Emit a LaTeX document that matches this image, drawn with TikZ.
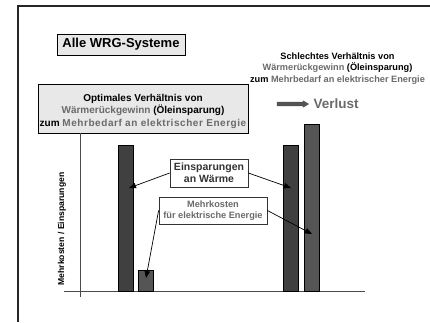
\documentclass[tikz,border=0pt]{standalone}
\usepackage{fontspec}
\setmainfont{Liberation Sans}
\usetikzlibrary{arrows.meta}
\definecolor{txtgrey}{HTML}{6A6A6A}
\definecolor{boxgrey}{HTML}{E8E8E8}
\definecolor{bardark}{HTML}{404040}
\definecolor{barmid}{HTML}{555555}
\definecolor{linegrey}{HTML}{4A4A4A}
\newfontfamily\spacedfont[LetterSpace=5.5]{Liberation Sans}
\tikzset{
  greybox/.style={draw=black, fill=boxgrey, line width=0.8pt, inner sep=0pt, align=center},
  whitebox/.style={draw=black!80, fill=white, line width=0.8pt, inner sep=0pt, align=center},
  bar/.style={draw=black, line width=0.6pt, inner sep=0pt, minimum width=15pt},
  arr/.style={line width=0.7pt, -{Triangle[length=7pt,width=5.5pt]}},
  axisline/.style={draw=linegrey, line width=0.8pt},
}
\begin{document}
\begin{tikzpicture}[x=1pt,y=-1pt]
\useasboundingbox (0,0) rectangle (430,322);
% frame
\draw[line width=1.1pt, black!85] (430,6) -- (18,6) -- (18,322);
% title
\node[greybox, minimum width=128pt, minimum height=21pt, font=\bfseries\fontsize{13}{15}\selectfont] (alle) at (121,44.5) {Alle WRG-Systeme};
% optimal box
\node[greybox, minimum width=210pt, minimum height=49pt, font=\bfseries\fontsize{10}{12.5}\selectfont] (opt) at (143,108.5)
  {\rule{0pt}{13pt}Optimales Verhältnis von\\ \textcolor{txtgrey}{Wärmerückgewinn} (Öleinsparung)\\ zum \textcolor{txtgrey}{\spacedfont Mehrbedarf an elektrischer Energie}};
% schlechtes text
\node[align=center, inner sep=0pt, font=\bfseries\fontsize{9.2}{11.5}\selectfont] (schl) at (337.5,68.5)
  {Schlechtes Verhältnis von\\ \textcolor{txtgrey}{Wärmerückgewinn} (Öleinsparung)\\ zum \textcolor{txtgrey}{Mehrbedarf an elektrischer Energie}};
% Verlust arrow and text
\fill[barmid, draw=black!70, line width=0.5pt] (277,102.2) -- (303,102.2) -- (303,100.8) -- (308.5,104) -- (303,107.2) -- (303,105.8) -- (277,105.8) -- cycle;
\node[anchor=west, text=txtgrey, font=\bfseries\fontsize{13.5}{15}\selectfont, inner sep=0pt] (verl) at (313.5,104) {Verlust};
% axes
\coordinate (ytop) at (80,133);
\coordinate (ybot) at (80,297);
\coordinate (xl) at (64,291);
\coordinate (xr) at (365,291);
\draw[axisline] (ytop) -- (ybot);
\draw[axisline] (xl) -- (xr);
\node[rotate=90, font=\bfseries\fontsize{8.6}{10}\selectfont] (ylab) at (62,229) {Mehrkosten / Einsparungen};
% bars
\node[bar, fill=bardark, minimum height=146pt] (b1) at (125.5,218) {};
\node[bar, fill=barmid, minimum height=21pt] (b2) at (145.5,280.5) {};
\node[bar, fill=bardark, minimum height=146pt] (b3) at (291,218) {};
\node[bar, fill=barmid, minimum height=167pt] (b4) at (311.5,207.5) {};
% label boxes
\node[whitebox, minimum width=78pt, minimum height=28pt, text=black!80, font=\bfseries\fontsize{10.5}{12}\selectfont] (eins) at (209,173) {Einsparungen\\an Wärme};
\node[whitebox, minimum width=108pt, minimum height=27pt, text=txtgrey, font=\bfseries\fontsize{9.2}{11.5}\selectfont] (mehr) at (213,210.5) {Mehrkosten\\für elektrische Energie};
% arrow targets
\coordinate (t1) at (129,188);
\coordinate (t2) at (146,278);
\coordinate (t3) at (291,188);
\coordinate (t4) at (312,234);
\draw[arr] (eins.west) -- (t1);
\draw[arr] (eins.east) -- (t3);
\draw[arr] (mehr.west) -- (t2);
\draw[arr] (mehr.east) -- (t4);
\end{tikzpicture}
\end{document}
